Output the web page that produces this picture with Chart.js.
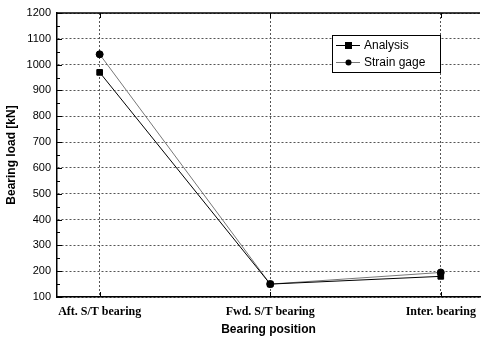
<!DOCTYPE html>
<html>
<head>
<meta charset="utf-8">
<script src="https://cdn.jsdelivr.net/npm/chart.js@4"></script>
<style>
  html, body { margin: 0; padding: 0; background: #fff; }
  #wrap { width: 485px; height: 341px; }
</style>
</head>
<body>
<div id="wrap"><canvas id="loadChart" width="485" height="341"></canvas></div>
<script>
const positions = ['Aft. S/T bearing', 'Fwd. S/T bearing', 'Inter. bearing'];
const analysis = [970, 150, 180];
const strainGage = [1040, 150, 195];

const toPoints = vals => vals.map((v, i) => ({ x: i + 1, y: v }));

// frame top line, inward ticks and the boxed legend
const framePlugin = {
  id: 'frame',
  afterDraw(chart) {
    const { ctx, chartArea: a, scales } = chart;
    ctx.save();
    ctx.strokeStyle = '#000';
    ctx.lineWidth = 1.5;
    ctx.beginPath();
    ctx.moveTo(a.left, a.top);
    ctx.lineTo(a.right, a.top);
    ctx.stroke();

    ctx.lineWidth = 1;
    ctx.beginPath();
    for (let v = 100; v <= 1200; v += 50) {
      const y = Math.round(scales.y.getPixelForValue(v)) + 0.5;
      const len = v % 100 === 0 ? 5 : 3;
      ctx.moveTo(a.left, y);
      ctx.lineTo(a.left + len, y);
    }
    for (let i = 1; i <= positions.length; i++) {
      const x = Math.round(scales.x.getPixelForValue(i)) + 0.5;
      ctx.moveTo(x, a.bottom);
      ctx.lineTo(x, a.bottom - 5);
      ctx.moveTo(x, a.top);
      ctx.lineTo(x, a.top + 5);
    }
    ctx.stroke();

    // legend
    const lx = 332, ly = 35, lw = 108, lh = 37;
    ctx.fillStyle = '#fff';
    ctx.fillRect(lx, ly, lw, lh);
    ctx.strokeStyle = '#000';
    ctx.strokeRect(lx + 0.5, ly + 0.5, lw, lh);
    const items = [
      { label: 'Analysis', color: '#000', style: 'rect' },
      { label: 'Strain gage', color: '#777', style: 'circle' }
    ];
    ctx.font = '12px "Liberation Sans", Arial, sans-serif';
    ctx.textBaseline = 'middle';
    items.forEach((it, k) => {
      const y = ly + 10 + k * 17 + 0.5;
      ctx.strokeStyle = it.color;
      ctx.beginPath();
      ctx.moveTo(lx + 4, y);
      ctx.lineTo(lx + 28, y);
      ctx.stroke();
      ctx.fillStyle = '#000';
      if (it.style === 'rect') ctx.fillRect(lx + 13, y - 3.5, 7, 7);
      else { ctx.beginPath(); ctx.arc(lx + 16.5, y, 3, 0, Math.PI * 2); ctx.fill(); }
      ctx.fillText(it.label, lx + 32, y);
    });
    ctx.restore();
  }
};

new Chart(document.getElementById('loadChart'), {
  type: 'line',
  data: {
    datasets: [{
      label: 'Analysis',
      data: toPoints(analysis),
      borderColor: '#000',
      backgroundColor: '#000',
      borderWidth: 1,
      pointStyle: 'rect',
      pointRadius: 4,
      pointHoverRadius: 4
    }, {
      label: 'Strain gage',
      data: toPoints(strainGage),
      borderColor: '#777',
      backgroundColor: '#000',
      pointBorderColor: '#000',
      borderWidth: 1,
      pointStyle: 'circle',
      pointRadius: 3.5,
      pointHoverRadius: 3.5
    }]
  },
  options: {
    responsive: false,
    animation: false,
    layout: { padding: { top: 13, right: 0, left: 0, bottom: 0 } },
    plugins: { legend: { display: false }, tooltip: { enabled: false } },
    scales: {
      x: {
        type: 'linear',
        min: 0.75,
        max: 3.23,
        afterBuildTicks: s => { s.ticks = positions.map((p, i) => ({ value: i + 1 })); },
        afterFit: s => { s.height = 44; },
        ticks: {
          callback: v => positions[v - 1],
          color: '#000',
          padding: 8,
          maxRotation: 0,
          font: { family: '"Liberation Serif", "Times New Roman", serif', size: 12, weight: 'bold' }
        },
        grid: { color: '#555', drawTicks: false, lineWidth: 1 },
        border: { color: '#000', width: 1.5, dash: [2, 2] },
        title: {
          display: true,
          text: 'Bearing position',
          color: '#000',
          padding: { top: 2 },
          font: { family: '"Liberation Sans", Arial, sans-serif', size: 12, weight: 'bold' }
        }
      },
      y: {
        min: 100,
        max: 1200,
        afterFit: s => { s.width = 57; },
        ticks: {
          stepSize: 100,
          callback: v => String(v),
          color: '#000',
          padding: 6,
          font: { family: '"Liberation Sans", Arial, sans-serif', size: 11 }
        },
        grid: { color: '#555', drawTicks: false, lineWidth: 1 },
        border: { color: '#000', width: 1.5, dash: [2, 2] },
        title: {
          display: true,
          text: 'Bearing load [kN]',
          color: '#000',
          padding: { bottom: 4 },
          font: { family: '"Liberation Sans", Arial, sans-serif', size: 12, weight: 'bold' }
        }
      }
    }
  },
  plugins: [framePlugin]
});
</script>
</body>
</html>
